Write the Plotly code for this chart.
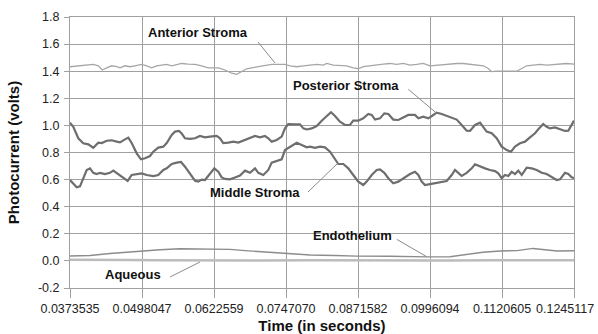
import plotly.graph_objects as go

# ---------------- data (time in seconds, photocurrent in volts) ----------------
tick_vals = [0.0373535, 0.0498047, 0.0622559, 0.0747070, 0.0871582, 0.0996094, 0.1120605, 0.1245117]
tick_text = ["0.0373535", "0.0498047", "0.0622559", "0.0747070", "0.0871582", "0.0996094", "0.1120605", "0.1245117"]
y_ticks = [-0.2, 0.0, 0.2, 0.4, 0.6, 0.8, 1.0, 1.2, 1.4, 1.6, 1.8]
y_text = ["-0.2", "0.0", "0.2", "0.4", "0.6", "0.8", "1.0", "1.2", "1.4", "1.6", "1.8"]

anterior_t = [0.03735, 0.03879, 0.03995, 0.04138, 0.04225, 0.04294, 0.04370, 0.04456, 0.04543, 0.04600,
              0.04686, 0.04773, 0.04859, 0.04975, 0.05062, 0.05148, 0.05235, 0.05321, 0.05408, 0.05494,
              0.05581, 0.05667, 0.05781, 0.05897, 0.06013, 0.06127, 0.06213, 0.06300, 0.06416, 0.06532,
              0.06618, 0.06705, 0.06791, 0.06878, 0.06992, 0.07107, 0.07223, 0.07337, 0.07453, 0.07540,
              0.07656, 0.07770, 0.07886, 0.08002, 0.08116, 0.08174, 0.08289, 0.08404, 0.08520, 0.08634,
              0.08721, 0.08807, 0.08923, 0.09039, 0.09153, 0.09269, 0.09385, 0.09499, 0.09615, 0.09731,
              0.09845, 0.09961, 0.10077, 0.10191, 0.10307, 0.10423, 0.10537, 0.10653, 0.10768, 0.10883,
              0.10969, 0.11028, 0.11114, 0.11228, 0.11344, 0.11460, 0.11547, 0.11633, 0.11747, 0.11863,
              0.11979, 0.12093, 0.12209, 0.12325, 0.12451]
anterior_v = [1.433, 1.440, 1.445, 1.450, 1.440, 1.409, 1.425, 1.440, 1.433, 1.425,
              1.440, 1.433, 1.440, 1.450, 1.440, 1.425, 1.440, 1.445, 1.450, 1.440,
              1.450, 1.457, 1.452, 1.450, 1.440, 1.425, 1.425, 1.425, 1.409, 1.385,
              1.377, 1.400, 1.418, 1.425, 1.433, 1.440, 1.450, 1.450, 1.450, 1.440,
              1.433, 1.440, 1.445, 1.450, 1.445, 1.457, 1.445, 1.440, 1.440, 1.425,
              1.418, 1.433, 1.440, 1.450, 1.452, 1.457, 1.450, 1.457, 1.445, 1.450,
              1.457, 1.440, 1.445, 1.450, 1.450, 1.457, 1.457, 1.452, 1.450, 1.440,
              1.420, 1.397, 1.400, 1.400, 1.400, 1.400, 1.420, 1.440, 1.445, 1.450,
              1.445, 1.450, 1.450, 1.457, 1.452]

posterior_t = [0.03735, 0.03792, 0.03879, 0.03965, 0.04052, 0.04138, 0.04225, 0.04284, 0.04370, 0.04456,
               0.04543, 0.04600, 0.04686, 0.04744, 0.04802, 0.04889, 0.04963, 0.05032, 0.05119, 0.05176,
               0.05262, 0.05349, 0.05408, 0.05494, 0.05551, 0.05620, 0.05667, 0.05724, 0.05811, 0.05897,
               0.05983, 0.06070, 0.06156, 0.06272, 0.06329, 0.06386, 0.06473, 0.06559, 0.06646, 0.06762,
               0.06848, 0.06935, 0.07021, 0.07107, 0.07165, 0.07223, 0.07310, 0.07396, 0.07453, 0.07510,
               0.07626, 0.07713, 0.07770, 0.07829, 0.07915, 0.08002, 0.08088, 0.08174, 0.08249, 0.08318,
               0.08404, 0.08491, 0.08577, 0.08634, 0.08721, 0.08807, 0.08894, 0.08953, 0.09010, 0.09096,
               0.09171, 0.09240, 0.09326, 0.09413, 0.09499, 0.09586, 0.09701, 0.09759, 0.09845, 0.09932,
               0.10018, 0.10077, 0.10163, 0.10250, 0.10336, 0.10423, 0.10509, 0.10595, 0.10653, 0.10739,
               0.10826, 0.10883, 0.10941, 0.11028, 0.11114, 0.11201, 0.11287, 0.11362, 0.11431, 0.11517,
               0.11604, 0.11690, 0.11777, 0.11834, 0.11920, 0.11979, 0.12036, 0.12123, 0.12209, 0.12295,
               0.12353, 0.12411, 0.12451]
posterior_v = [1.020, 0.990, 0.905, 0.868, 0.860, 0.835, 0.872, 0.870, 0.887, 0.890,
               0.880, 0.875, 0.897, 0.910, 0.870, 0.794, 0.750, 0.757, 0.774, 0.806,
               0.836, 0.843, 0.870, 0.929, 0.954, 0.959, 0.940, 0.905, 0.900, 0.905,
               0.922, 0.912, 0.917, 0.922, 0.905, 0.870, 0.873, 0.880, 0.873, 0.892,
               0.905, 0.922, 0.912, 0.922, 0.905, 0.880, 0.892, 0.917, 0.978, 1.010,
               1.008, 1.008, 0.978, 0.970, 0.978, 0.995, 1.035, 1.070, 1.097, 1.070,
               1.027, 1.003, 1.003, 1.035, 1.035, 1.052, 1.084, 1.077, 1.043, 1.052,
               1.089, 1.084, 1.043, 1.040, 1.060, 1.077, 1.077, 1.052, 1.065, 1.052,
               1.077, 1.094, 1.084, 1.070, 1.060, 1.043, 1.003, 0.961, 0.959, 1.003,
               1.020, 0.985, 0.954, 0.942, 0.905, 0.843, 0.818, 0.806, 0.843, 0.868,
               0.880, 0.912, 0.942, 0.971, 1.010, 0.990, 0.978, 0.985, 0.971, 0.959,
               0.961, 1.003, 1.035]

middle_t = [0.03735, 0.03792, 0.03851, 0.03908, 0.03965, 0.04024, 0.04081, 0.04138, 0.04197, 0.04254,
            0.04341, 0.04427, 0.04484, 0.04571, 0.04657, 0.04733, 0.04802, 0.04889, 0.04975, 0.05062,
            0.05176, 0.05262, 0.05349, 0.05408, 0.05494, 0.05581, 0.05655, 0.05724, 0.05811, 0.05897,
            0.05954, 0.06013, 0.06070, 0.06156, 0.06231, 0.06300, 0.06359, 0.06416, 0.06502, 0.06589,
            0.06675, 0.06762, 0.06848, 0.06935, 0.06992, 0.07078, 0.07165, 0.07223, 0.07310, 0.07396,
            0.07453, 0.07523, 0.07597, 0.07656, 0.07742, 0.07829, 0.07886, 0.07972, 0.08059, 0.08145,
            0.08232, 0.08318, 0.08375, 0.08462, 0.08548, 0.08634, 0.08721, 0.08807, 0.08866, 0.08953,
            0.09039, 0.09096, 0.09171, 0.09240, 0.09326, 0.09413, 0.09499, 0.09615, 0.09701, 0.09759,
            0.09817, 0.09874, 0.09961, 0.10077, 0.10163, 0.10250, 0.10336, 0.10393, 0.10450, 0.10509,
            0.10595, 0.10682, 0.10739, 0.10826, 0.10912, 0.10998, 0.11085, 0.11142, 0.11201, 0.11258,
            0.11315, 0.11374, 0.11431, 0.11488, 0.11547, 0.11633, 0.11720, 0.11806, 0.11893, 0.11979,
            0.12065, 0.12152, 0.12209, 0.12295, 0.12353, 0.12411, 0.12451]
middle_v = [0.597, 0.567, 0.543, 0.550, 0.610, 0.671, 0.683, 0.650, 0.641, 0.650,
            0.641, 0.650, 0.666, 0.641, 0.610, 0.590, 0.634, 0.641, 0.646, 0.634,
            0.626, 0.634, 0.671, 0.683, 0.715, 0.725, 0.730, 0.695, 0.641, 0.592,
            0.585, 0.600, 0.597, 0.646, 0.683, 0.658, 0.616, 0.605, 0.602, 0.616,
            0.630, 0.666, 0.650, 0.683, 0.650, 0.634, 0.671, 0.725, 0.740, 0.750,
            0.818, 0.835, 0.855, 0.872, 0.855, 0.838, 0.843, 0.835, 0.843, 0.838,
            0.806, 0.745, 0.715, 0.715, 0.683, 0.634, 0.585, 0.560, 0.585, 0.634,
            0.671, 0.675, 0.650, 0.610, 0.573, 0.585, 0.610, 0.641, 0.658, 0.634,
            0.585, 0.560, 0.567, 0.577, 0.585, 0.590, 0.634, 0.671, 0.650, 0.627,
            0.650, 0.683, 0.713, 0.695, 0.683, 0.671, 0.663, 0.646, 0.610, 0.634,
            0.627, 0.658, 0.641, 0.666, 0.634, 0.688, 0.683, 0.671, 0.650, 0.641,
            0.622, 0.597, 0.602, 0.650, 0.641, 0.617, 0.610]

endothelium_t = [0.03735, 0.04081, 0.04427, 0.04773, 0.04980, 0.05292, 0.05638, 0.05983, 0.06243, 0.06502,
                 0.06762, 0.07107, 0.07488, 0.07886, 0.08318, 0.08698, 0.09269, 0.09615, 0.09909, 0.10307,
                 0.10601, 0.10877, 0.11171, 0.11465, 0.11742, 0.11915, 0.12157, 0.12451]
endothelium_v = [0.036, 0.040, 0.055, 0.068, 0.075, 0.082, 0.090, 0.088, 0.090, 0.085,
                 0.076, 0.066, 0.052, 0.044, 0.040, 0.035, 0.034, 0.031, 0.030, 0.031,
                 0.048, 0.064, 0.073, 0.076, 0.092, 0.086, 0.073, 0.075]

aqueous_t = [0.03735, 0.04250, 0.04750, 0.05250, 0.05550, 0.06250, 0.07000, 0.07900, 0.08700, 0.09200,
             0.09500, 0.10300, 0.11000, 0.11500, 0.12000, 0.12451]
aqueous_v = [0.008, 0.009, 0.007, 0.004, 0.003, 0.004, 0.003, 0.005, 0.003, 0.006,
             0.004, 0.003, 0.004, 0.003, 0.004, 0.004]

# labels: (text, text_t, text_v, leader_t0, leader_v0, leader_t1, leader_v1)
labels = [
    ("Anterior Stroma", 0.05949, 1.682, 0.06986, 1.6155, 0.07281, 1.4605),
    ("Posterior Stroma", 0.08508, 1.298, 0.09586, 1.2664, 0.10077, 1.0893),
    ("Middle Stroma", 0.06935, 0.5085, 0.07851, 0.5085, 0.08370, 0.7225),
    ("Endothelium", 0.08621, 0.1911, 0.09385, 0.1594, 0.09904, 0.0310),
    ("Aqueous", 0.04833, -0.0967, 0.05465, -0.1188, 0.05983, -0.0081),
]

FONT = "Liberation Sans, Arial, sans-serif"

fig = go.Figure()
fig.add_trace(go.Scatter(x=aqueous_t, y=aqueous_v, mode="lines",
                         line=dict(color="#bcbcbc", width=2.5), hoverinfo="skip"))
fig.add_trace(go.Scatter(x=endothelium_t, y=endothelium_v, mode="lines",
                         line=dict(color="#8c8c8c", width=1.4), hoverinfo="skip"))
fig.add_trace(go.Scatter(x=anterior_t, y=anterior_v, mode="lines",
                         line=dict(color="#a6a6a6", width=1.3), hoverinfo="skip"))
fig.add_trace(go.Scatter(x=middle_t, y=middle_v, mode="lines",
                         line=dict(color="#6e6e6e", width=2.2), hoverinfo="skip"))
fig.add_trace(go.Scatter(x=posterior_t, y=posterior_v, mode="lines",
                         line=dict(color="#6e6e6e", width=2.2), hoverinfo="skip"))

for text, tx, ty, l0x, l0y, l1x, l1y in labels:
    fig.add_annotation(x=tx, y=ty, xref="x", yref="y", text=f"<b>{text}</b>", showarrow=False,
                       font=dict(family=FONT, size=13, color="#111111"))
    fig.add_shape(type="line", xref="x", yref="y", x0=l0x, y0=l0y, x1=l1x, y1=l1y,
                  line=dict(color="#8a8a8a", width=1))

# the last tick label sits flush against the right edge of the figure, as in the original
shown_ticktext = tick_text[:-1] + [""]
fig.add_annotation(x=1.0, y=0, xref="paper", yref="paper", text=tick_text[-1], showarrow=False,
                   xanchor="right", yanchor="middle", xshift=22, yshift=-21,
                   font=dict(family=FONT, size=12.5, color="#222222"))

fig.update_layout(
    width=598, height=334,
    margin=dict(l=70, r=24, t=17, b=46, autoexpand=False),
    paper_bgcolor="white", plot_bgcolor="white",
    showlegend=False,
    font=dict(family=FONT, color="#222222"),
)
fig.update_xaxes(
    automargin=False,
    range=[tick_vals[0], tick_vals[-1]], tickvals=tick_vals, ticktext=shown_ticktext,
    showgrid=True, gridcolor="#a0a0a0", gridwidth=1, zeroline=False,
    showline=True, linecolor="#a0a0a0", linewidth=1, mirror=True,
    ticks="outside", ticklen=9, tickcolor="#a0a0a0",
    ticklabeloverflow="allow",
    tickfont=dict(family=FONT, size=12.5, color="#222222"),
    title=dict(text="<b>Time (in seconds)</b>", font=dict(family=FONT, size=15, color="#111111"), standoff=5),
)
fig.update_yaxes(
    automargin=False,
    range=[-0.2, 1.8], tickvals=y_ticks, ticktext=y_text,
    showgrid=True, gridcolor="#a0a0a0", gridwidth=1, zeroline=False,
    showline=True, linecolor="#a0a0a0", linewidth=1, mirror=True,
    ticks="outside", ticklen=5, tickcolor="#a0a0a0",
    ticklabelstandoff=2,
    tickfont=dict(family=FONT, size=12.5, color="#222222"),
    title=dict(text="<b>Photocurrent (volts)</b>", font=dict(family=FONT, size=15, color="#111111"), standoff=14),
)

fig.write_html("out.html")
